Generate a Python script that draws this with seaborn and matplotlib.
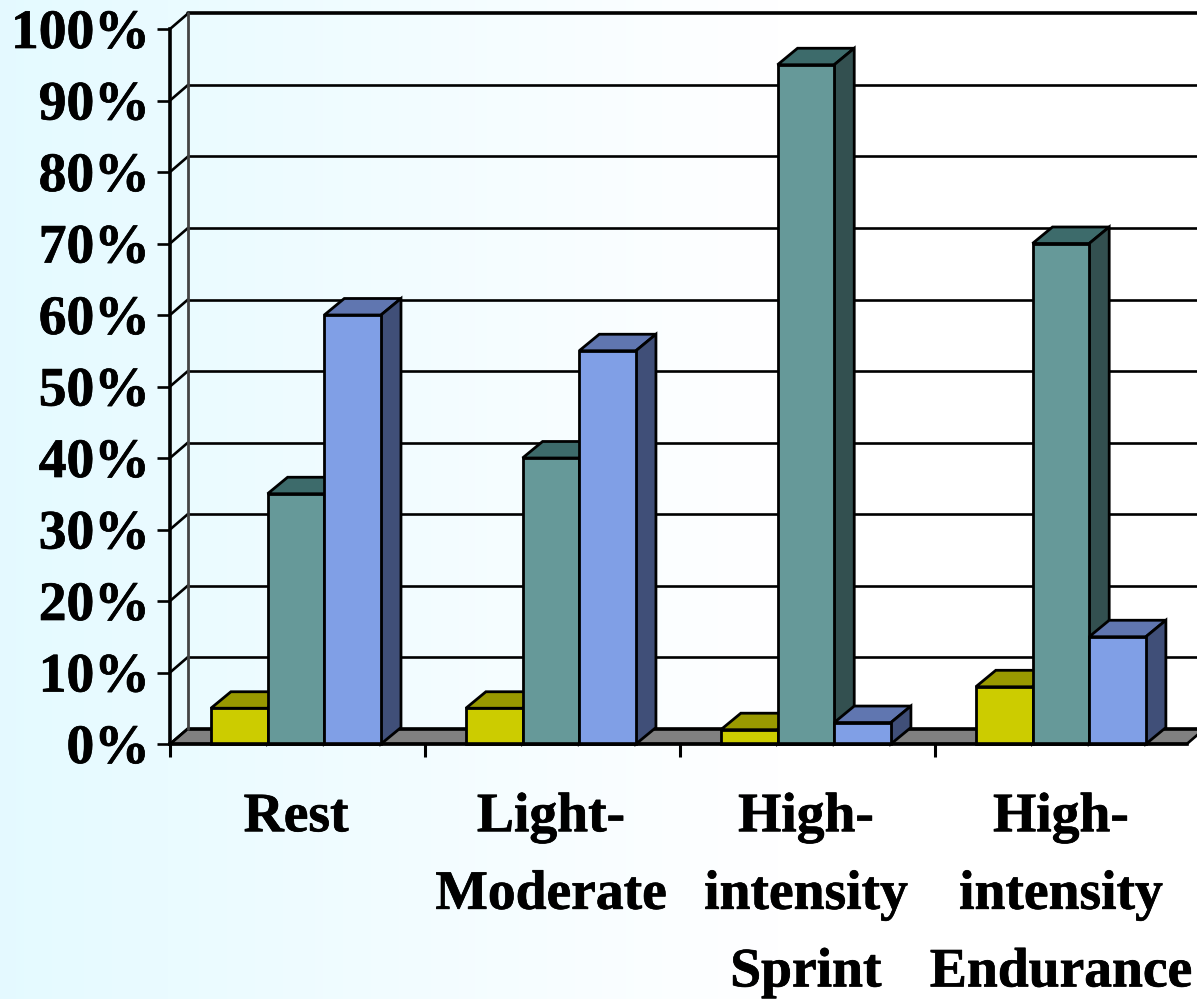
#metabolic share per exercise intensity, fake 3D bars
import numpy as np
import pandas as pd
import seaborn as sns
import matplotlib
matplotlib.use('Agg')
import matplotlib.pyplot as plt
import matplotlib.patheffects as pe
from matplotlib.patches import Polygon
from matplotlib.transforms import Affine2D

categories=['Rest','Light-\nModerate','High-\nintensity\nSprint','High-\nintensity\nEndurance']
series_names=['a','b','c']
values_a=[5,5,2,8]
values_b=[35,40,95,70]
values_c=[60,55,3,15]
y_ticks=list(range(0,101,10))
y_labels=[str(t)+'%' for t in y_ticks]

front_colors=['#CCCC00','#669999','#809FE6']
top_colors=['#999900','#3D6B6B','#6076B0']
side_colors=['#6E6E00','#335050','#404F78']

W,H=1197,999
sns.set_theme(style='white')
plt.rcParams['font.family']=['Liberation Serif','DejaVu Serif']
plt.rcParams['font.weight']='bold'

df=pd.DataFrame({'cat':categories*3,
                 'serie':[s for s in series_names for _ in categories],
                 'val':values_a+values_b+values_c})

fig=plt.figure(figsize=(W/100,H/100),dpi=100)

#background gradient
bg=fig.add_axes([0,0,1,1],zorder=-1)
xx=np.linspace(0,1,300)
t=np.clip(xx/0.65,0,1)[None,:]
rgb=np.stack([0.895+0.105*t,0.98+0.02*t,np.ones_like(t)],axis=2)
bg.imshow(rgb,aspect='auto',extent=(0,1,0,1))
bg.axis('off')

#main axes: px 170..1197 wide, px 29..744 tall
ax=fig.add_axes([170/W,(H-744)/H,(W-170)/W,715/H])
ax.patch.set_alpha(0)
sns.barplot(data=df,x='cat',y='val',hue='serie',order=categories,hue_order=series_names,
            palette=front_colors,width=0.667,gap=0,dodge=True,legend=False,
            edgecolor='black',linewidth=2.0,saturation=1,errorbar=None,ax=ax)
ax.set_xlim(-0.494,3.534)
ax.set_ylim(0,100)
ax.set_xlabel('')
ax.set_ylabel('')

#pixel sizes to data units
px_x=4.028/(W-170)
px_y=100/715
wall_dx,wall_dy=18*px_x,15.5*px_y
bar_dx,bar_dy=20*px_x,16.5*px_y
x0,x1=-0.494,3.494

#floor and back wall
ax.add_patch(Polygon([(x0,0),(x1,0),(x1+wall_dx,wall_dy),(x0+wall_dx,wall_dy)],closed=True,
                     facecolor='#808080',edgecolor='black',linewidth=1.9,zorder=1,clip_on=False))
for t in y_ticks:
    lw=2.6 if t==100 else 1.9
    ax.plot([x0,x0+wall_dx],[t,t+wall_dy],color='black',lw=1.9,zorder=1,clip_on=False,solid_capstyle='round')
    ax.plot([x0+wall_dx,3.534],[t+wall_dy,t+wall_dy],color='black',lw=lw,zorder=1,clip_on=False)
ax.plot([x0+wall_dx,x0+wall_dx],[wall_dy,100+wall_dy],color='#444444',lw=2.0,zorder=1,clip_on=False)

#top and side of every bar
z=3
bars=sorted([b for b in ax.patches if type(b).__name__=='Rectangle'],key=lambda b:b.get_x())
for i,b in enumerate(bars):
    xl=b.get_x()
    xr=xl+b.get_width()
    h=b.get_height()
    k=i%3
    ax.add_patch(Polygon([(xl,h),(xr,h),(xr+bar_dx,h+bar_dy),(xl+bar_dx,h+bar_dy)],closed=True,
                         facecolor=top_colors[k],edgecolor='black',linewidth=2.0,zorder=z,clip_on=False))
    ax.add_patch(Polygon([(xr,0),(xr+bar_dx,bar_dy),(xr+bar_dx,h+bar_dy),(xr,h)],closed=True,
                         facecolor=side_colors[k],edgecolor='black',linewidth=2.0,zorder=z,clip_on=False))
    b.set_zorder(z+1)
    b.set_clip_on(False)
    z+=2

#axes and ticks
sns.despine(ax=ax,top=True,right=True)
for s in ['left','bottom']:
    ax.spines[s].set_color('black')
    ax.spines[s].set_linewidth(2.6)
    ax.spines[s].set_zorder(z+5)
ax.spines['bottom'].set_bounds(x0,x1)
ax.set_yticks(y_ticks)
ax.set_yticklabels(y_labels,fontsize=40,fontweight='bold',color='black',va='center')
ax.tick_params(axis='y',length=9.5,width=1.9,color='black',pad=5,left=True)
ax.set_xticks(range(4))
ax.set_xticklabels(categories,fontsize=40,fontweight='bold',color='black',linespacing=1.64,va='top')
ax.tick_params(axis='x',which='major',length=0,pad=34)
ax.set_xticks([i+x0 for i in range(4)],minor=True)
ax.tick_params(axis='x',which='minor',length=9.5,width=2.2,color='black',bottom=True)

#reference type is a bit heavier
for lab in ax.get_yticklabels()+ax.get_xticklabels():
    lab.set_path_effects([pe.withStroke(linewidth=0.5,foreground='black')])
for lab in ax.get_yticklabels():
    lab.set_transform(lab.get_transform()+Affine2D().translate(0,-5))

fig.savefig('out.png',dpi=100)
